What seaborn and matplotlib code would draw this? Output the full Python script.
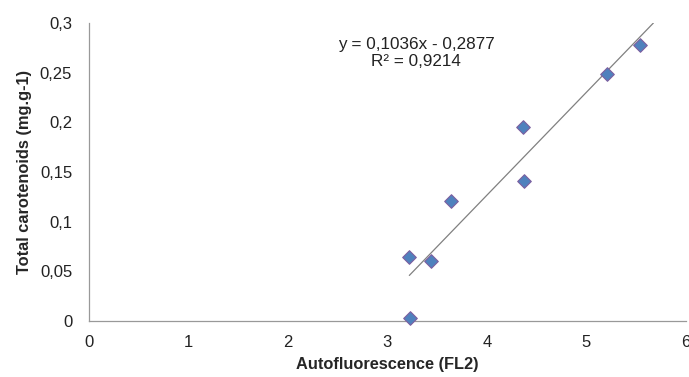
import matplotlib
matplotlib.use("Agg")
import matplotlib.pyplot as plt
import seaborn as sns
import numpy as np
import pandas as pd

# Data
autofluorescence = [3.22, 3.23, 3.44, 3.64, 4.36, 4.37, 5.21, 5.54]
carotenoids = [0.0645, 0.003, 0.060, 0.121, 0.195, 0.141, 0.249, 0.278]
slope = 0.1036
intercept = -0.2877
eq_label = "y = 0,1036x - 0,2877"
r2_label = "R² = 0,9214"
x_ticks = [0, 1, 2, 3, 4, 5, 6]
y_ticks = [0, 0.05, 0.1, 0.15, 0.2, 0.25, 0.3]
y_tick_labels = ["0", "0,05", "0,1", "0,15", "0,2", "0,25", "0,3"]

df = pd.DataFrame({"x": autofluorescence, "y": carotenoids})

sns.set_style("white")
plt.rcParams["font.family"] = ["Liberation Sans", "DejaVu Sans"]

fig = plt.figure(figsize=(6.89, 3.77), dpi=100)
ax = fig.add_axes([0.129, 0.1485, 0.8666, 0.7905])

# trendline (from min x to top of axis)
x_end = (0.3 - intercept) / slope
xl = np.array([min(autofluorescence), x_end])
ax.plot(xl, slope * xl + intercept, color="#808080", lw=0.9, zorder=1)

sns.scatterplot(data=df, x="x", y="y", marker="D", s=48, color="#4F81BD",
                edgecolor="#7D60A0", linewidth=0.8, ax=ax, zorder=3, clip_on=False)

ax.set_xlim(0, 6)
ax.set_ylim(0, 0.3)
ax.set_xticks(x_ticks)
ax.set_xticklabels([str(t) for t in x_ticks])
ax.set_yticks(y_ticks)
ax.set_yticklabels(y_tick_labels)

for s in ["top", "right"]:
    ax.spines[s].set_visible(False)
for s in ["left", "bottom"]:
    ax.spines[s].set_color("#999999")
    ax.spines[s].set_linewidth(0.9)

ax.tick_params(axis="both", which="major", direction="out", length=4, width=0.9,
               color="#999999", labelsize=12, labelcolor="#222222")
ax.tick_params(axis="y", pad=8)
ax.tick_params(axis="x", pad=6)

ax.set_xlabel("Autofluorescence (FL2)", fontsize=11.8, fontweight="bold", labelpad=5)
ax.set_ylabel("Total carotenoids (mg.g-1)", fontsize=11.8, fontweight="bold", labelpad=6)

fig.text(416 / 689, 1 - 45 / 377, eq_label, ha="center", va="center", fontsize=12.3, color="#222222")
fig.text(416 / 689, 1 - 61 / 377, r2_label, ha="center", va="center", fontsize=12.3, color="#222222")

fig.savefig("out.png", dpi=100)
